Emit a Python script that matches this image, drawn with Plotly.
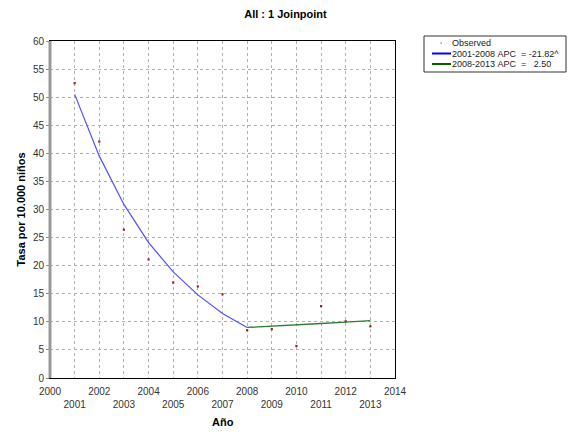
import plotly.graph_objects as go

years = [2001, 2002, 2003, 2004, 2005, 2006, 2007, 2008, 2009, 2010, 2011, 2012, 2013]
observed = [52.5, 42.1, 26.4, 21.1, 17.0, 16.3, 14.9, 8.5, 8.7, 5.7, 12.8, 10.1, 9.2]
seg1_years = [2001, 2002, 2003, 2004, 2005, 2006, 2007, 2008]
seg1_vals = [50.5, 39.5, 30.9, 24.1, 18.9, 14.8, 11.5, 9.0]
seg2_years = [2008, 2009, 2010, 2011, 2012, 2013]
seg2_vals = [9.0, 9.2, 9.45, 9.7, 9.95, 10.2]
tick_years = list(range(2000, 2015))
tick_labels = [str(y) if y % 2 == 0 else "<br>" + str(y) for y in tick_years]
legend_names = ["Observed", "2001-2008 APC  = -21.82^", "2008-2013 APC  =   2.50"]

FONT = "Liberation Sans Narrow, Arial Narrow, Liberation Sans, Arial, sans-serif"
BOLD = "Liberation Sans, Arial, sans-serif"
W, H = 571, 435
L, R, T, B = 50, 395, 41, 378

def px(xp):
    return (xp - L) / (R - L)

def py(yp):
    return (B - yp) / (B - T)

fig = go.Figure()
fig.add_trace(go.Scatter(x=years, y=observed, mode="markers", name=legend_names[0],
                         marker=dict(color="#a02020", size=2.2, symbol="square", line=dict(width=0))))
fig.add_trace(go.Scatter(x=seg1_years, y=seg1_vals, mode="lines", name=legend_names[1],
                         line=dict(color="#5050ff", width=1.2)))
fig.add_trace(go.Scatter(x=seg2_years, y=seg2_vals, mode="lines", name=legend_names[2],
                         line=dict(color="#2e7d32", width=1.3)))

fig.update_layout(
    width=W, height=H,
    margin=dict(l=L, r=W - R, t=T, b=H - B),
    paper_bgcolor="white", plot_bgcolor="white",
    font=dict(family=FONT, size=10, color="#222"),
    title=dict(text="<b>All : 1 Joinpoint</b>", x=0.5, xref="container", xanchor="center",
               y=1 - 14 / H, yref="container", yanchor="middle",
               font=dict(family=BOLD, size=11, color="#000")),
    showlegend=False,
    xaxis=dict(range=[2000, 2014], tickmode="array", tickvals=tick_years, ticktext=tick_labels,
               tickangle=0,
               showgrid=True, gridcolor="#b0b0b0", griddash="dot", gridwidth=1,
               showline=True, linecolor="#000", linewidth=1, mirror=True,
               ticks="outside", ticklen=4, tickcolor="rgba(0,0,0,0)", zeroline=False,
               tickfont=dict(size=10, color="#333"), automargin=False),
    yaxis=dict(range=[0, 60], tickmode="array", tickvals=list(range(0, 61, 5)),
               showgrid=True, gridcolor="#b0b0b0", griddash="dot", gridwidth=1,
               showline=True, linecolor="#000", linewidth=1, mirror=True,
               ticks="outside", ticklen=3, tickcolor="#888", zeroline=False,
               tickfont=dict(size=10, color="#333"), automargin=False),
)
# axis titles
fig.add_annotation(text="<b>Año</b>", xref="paper", yref="paper", x=0.5, y=py(422),
                   xanchor="center", yanchor="middle", showarrow=False,
                   font=dict(family=BOLD, size=11, color="#000"))
fig.add_annotation(text="<b>Tasa por 10.000 niños</b>", xref="paper", yref="paper", x=px(20), y=0.5,
                   xanchor="center", yanchor="middle", showarrow=False, textangle=-90,
                   font=dict(family=BOLD, size=11, color="#000"))
# thick grey left axis line
fig.add_shape(type="line", xref="paper", yref="paper", x0=0, x1=0, y0=0, y1=1,
              line=dict(color="#999", width=3))

# custom legend box
bx0, bx1, by0, by1 = 424, 566, 36, 72
fig.add_shape(type="rect", xref="paper", yref="paper", x0=px(bx0), x1=px(bx1), y0=py(by1), y1=py(by0),
              line=dict(color="#333", width=1), fillcolor="white")
rows = [43, 53.5, 64]
fig.add_shape(type="rect", xref="paper", yref="paper", x0=px(440.5), x1=px(442), y0=py(rows[0] + 0.7),
              y1=py(rows[0] - 0.7), line=dict(width=0), fillcolor="#d08080")
fig.add_shape(type="line", xref="paper", yref="paper", x0=px(432), x1=px(451), y0=py(rows[1]), y1=py(rows[1]),
              line=dict(color="#0000ff", width=2))
fig.add_shape(type="line", xref="paper", yref="paper", x0=px(432), x1=px(451), y0=py(rows[2]), y1=py(rows[2]),
              line=dict(color="#006400", width=2))
for name, ry in zip(legend_names, rows):
    fig.add_annotation(text=name.replace(" ", "&nbsp;"), xref="paper", yref="paper", x=px(451), y=py(ry),
                       xanchor="left", yanchor="middle", showarrow=False, borderpad=0,
                       font=dict(family=FONT, size=9, color="#222"))

fig.write_html("out.html", config={"displayModeBar": False},
               post_script="document.body.style.margin='0';document.body.style.padding='0';")
